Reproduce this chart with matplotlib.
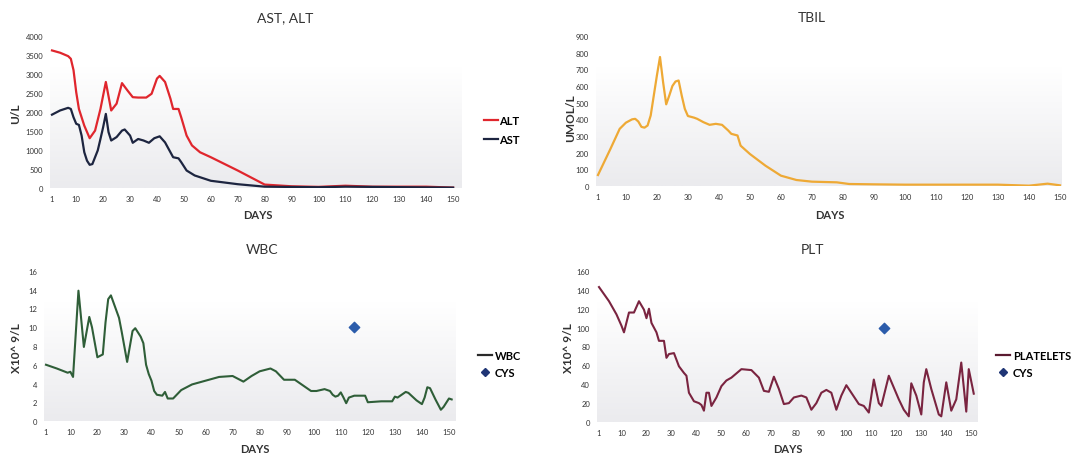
import numpy as np
import matplotlib
matplotlib.use('Agg')
import matplotlib.pyplot as plt
from matplotlib.colors import LinearSegmentedColormap
from matplotlib.lines import Line2D

plt.rcParams['font.family'] = ['Lato', 'DejaVu Sans']
plt.rcParams['lines.solid_joinstyle'] = 'round'

# --- data ---
alt_days = [1, 4, 7, 8, 9, 10, 11, 13, 15, 17, 19, 21, 23, 25, 27, 29, 31, 33, 36, 38, 40, 41, 43,
            45, 46, 48, 49, 51, 53, 56, 60, 70, 80, 90, 100, 110, 120, 140, 150]
alt = [3620, 3560, 3470, 3400, 3100, 2520, 2080, 1640, 1310, 1510, 2080, 2790, 2040, 2220, 2760,
       2570, 2390, 2380, 2380, 2480, 2880, 2950, 2790, 2350, 2080, 2080, 1860, 1380, 1120, 940,
       810, 460, 90, 45, 30, 60, 35, 35, 10]

ast_days = [1, 4, 7, 8, 9, 10, 11, 12, 13, 14, 15, 16, 18, 19, 20, 21, 22, 23, 25, 27, 28, 30, 31,
            33, 35, 37, 39, 41, 43, 45, 46, 48, 49, 51, 54, 60, 70, 80, 100, 110, 150]
ast = [1930, 2040, 2110, 2080, 1860, 1690, 1660, 1380, 940, 720, 610, 630, 990, 1290, 1600, 1950,
       1470, 1250, 1340, 1510, 1540, 1380, 1190, 1290, 1250, 1190, 1310, 1360, 1200, 940, 810,
       780, 680, 460, 330, 190, 100, 35, 20, 35, 10]

tbil_days = [1, 5, 8, 10, 12, 13, 14, 15, 16, 17, 18, 19, 20, 21, 22, 23, 24, 25, 26, 27, 28, 29,
             30, 32, 33, 35, 37, 39, 41, 43, 44, 46, 47, 50, 55, 60, 65, 70, 78, 82, 90, 100, 130,
             140, 146, 150]
tbil = [66, 222, 343, 380, 400, 403, 387, 355, 350, 363, 423, 543, 663, 774, 623, 490, 543, 600,
        627, 633, 543, 463, 420, 410, 403, 383, 367, 373, 367, 333, 313, 303, 242, 192, 122, 62,
        36, 26, 22, 12, 10, 8, 8, 2, 14, 4]

wbc_days = [1, 5, 9, 10, 11, 13, 15, 17, 18, 20, 22, 23, 24, 25, 26, 28, 29, 31, 33, 34, 36, 37,
            38, 39, 40, 41, 42, 44, 45, 46, 48, 51, 55, 60, 65, 70, 72, 74, 77, 80, 84, 86, 89,
            93, 99, 101, 104, 106, 107, 108, 109, 110, 111, 112, 113, 115, 119, 120, 125, 129,
            130, 131, 134, 135, 138, 140, 141, 142, 143, 145, 147, 148, 150, 151]
wbc = [6.0, 5.6, 5.15, 5.25, 4.7, 13.9, 7.9, 11.1, 10.0, 6.8, 7.1, 10.5, 13.0, 13.4, 12.6, 11.0,
       9.5, 6.3, 9.6, 9.9, 9.0, 8.3, 6.0, 5.0, 4.3, 3.2, 2.8, 2.7, 3.1, 2.4, 2.4, 3.3, 3.9, 4.3,
       4.7, 4.8, 4.5, 4.2, 4.8, 5.3, 5.6, 5.3, 4.4, 4.4, 3.2, 3.2, 3.4, 3.2, 2.8, 2.6, 2.7, 3.05,
       2.5, 1.9, 2.5, 2.7, 2.7, 2.0, 2.1, 2.1, 2.6, 2.5, 3.1, 3.0, 2.2, 1.8, 2.5, 3.6, 3.5, 2.3,
       1.2, 1.5, 2.4, 2.3]

plt_days = [1, 5, 8, 10, 11, 13, 15, 17, 19, 20, 21, 22, 24, 25, 27, 28, 29, 31, 33, 35, 36, 37,
            39, 41, 42, 43, 44, 45, 46, 48, 50, 52, 54, 58, 62, 65, 67, 69, 71, 73, 75, 77, 79,
            82, 84, 86, 88, 90, 92, 94, 96, 98, 100, 102, 105, 107, 109, 111, 113, 114, 117, 121,
            123, 125, 126, 128, 130, 131, 132, 134, 137, 138, 140, 142, 144, 146, 148, 149, 151]
platelets = [143, 128, 114, 102, 95, 116, 116, 128, 119, 110, 120, 105, 95, 86, 86, 68, 72, 73,
             59, 52, 49, 31, 22, 20, 18, 12, 31, 31, 17, 26, 38, 44, 47, 56, 55, 47, 33, 32, 48,
             35, 19, 20, 26, 28, 26, 13, 20, 31, 34, 31, 13, 28, 39, 31, 19, 17, 10, 45, 20, 17,
             49, 24, 13, 6, 41, 28, 8, 42, 56, 35, 8, 6, 42, 12, 24, 63, 11, 56, 30]

cys_day = [115]
cys_wbc = [10]
cys_plt = [100]

x_ticks = [1] + list(range(10, 151, 10))

W, H = 1087, 460
fig = plt.figure(figsize=(W / 100, H / 100), dpi=100)

bg_cmap = LinearSegmentedColormap.from_list('bg', ['#ebebee', '#ffffff'])


def px_axes(left, right, top, bottom):
    return fig.add_axes([left / W, 1 - bottom / H, (right - left) / W, (bottom - top) / H])


def style(ax, xlim, ylim, ystep):
    ax.set_xlim(*xlim)
    ax.set_ylim(*ylim)
    ax.set_xticks(x_ticks)
    ax.set_yticks(np.arange(ylim[0], ylim[1] + 1, ystep))
    for s in ax.spines.values():
        s.set_visible(False)
    ax.tick_params(length=0, labelsize=5.5, labelcolor='#333333', pad=5)
    # grey band fading upward, like the excel plot area
    grad = np.linspace(0, 1, 100).reshape(-1, 1)
    ax.imshow(grad, extent=[xlim[0], xlim[1], ylim[0], ylim[1] * 0.8], origin='lower',
              aspect='auto', cmap=bg_cmap, zorder=0)


def ftext(x, y, s, **kw):
    fig.text(x / W, 1 - y / H, s, ha='center', va='center', color='#333333', **kw)


# AST, ALT
ax1 = px_axes(50, 462, 37, 189)
style(ax1, (0.26, 153.3), (0, 4000), 500)
ax1.plot(alt_days, alt, color='#e0262d', lw=1.6, zorder=3)
ax1.plot(ast_days, ast, color='#1d2540', lw=1.6, zorder=3)
ftext(285, 18, 'AST, ALT', fontsize=10)
ftext(258, 216, 'DAYS', fontsize=8, fontweight='bold')
ftext(16, 114, 'U/L', fontsize=8.5, fontweight='bold', rotation=90)
fig.legend(handles=[Line2D([], [], color='#e0262d', lw=1.6, label='ALT'),
                    Line2D([], [], color='#1d2540', lw=1.6, label='AST')],
           loc='center left', bbox_to_anchor=(474 / W, 1 - 131 / H), frameon=False,
           handlelength=1.3, handletextpad=0.1, labelspacing=0.75,
           prop={'weight': 'bold', 'size': 8})

# TBIL
ax2 = px_axes(596, 1062, 37, 187)
style(ax2, (0.36, 150.65), (0, 900), 100)
ax2.plot(tbil_days, tbil, color='#eea935', lw=1.6, zorder=3)
ftext(812, 18, 'TBIL', fontsize=10)
ftext(830, 216, 'DAYS', fontsize=8, fontweight='bold')
ftext(571, 118, 'UMOL/L', fontsize=8.5, fontweight='bold', rotation=90)

# WBC
ax3 = px_axes(44, 456, 272, 422)
style(ax3, (0.26, 152.6), (0, 16), 2)
ax3.plot(wbc_days, wbc, color='#2f5e38', lw=1.5, zorder=3)
ax3.scatter(cys_day, cys_wbc, marker='D', s=28, color='#2b5cab', zorder=4)
ftext(262, 250, 'WBC', fontsize=10)
ftext(255, 450, 'DAYS', fontsize=8, fontweight='bold')
ftext(16, 348, 'X10^ 9/L', fontsize=8.5, fontweight='bold', rotation=90)
fig.legend(handles=[Line2D([], [], color='#2a2a2a', lw=1.6, label='WBC'),
                    Line2D([], [], color='#1f3575', marker='D', ms=4, ls='none', label='CYS')],
           loc='center left', bbox_to_anchor=(468 / W, 1 - 365 / H), frameon=False,
           handlelength=1.3, handletextpad=0.2, labelspacing=0.6,
           prop={'weight': 'bold', 'size': 8})

# PLT
ax4 = px_axes(597, 977, 272, 423)
style(ax4, (0.2, 152.3), (0, 160), 20)
ax4.plot(plt_days, platelets, color='#7a2440', lw=1.5, zorder=3)
ax4.scatter(cys_day, cys_plt, marker='D', s=28, color='#2b5cab', zorder=4)
ftext(812, 250, 'PLT', fontsize=10)
ftext(788, 450, 'DAYS', fontsize=8, fontweight='bold')
ftext(569, 348, 'X10^ 9/L', fontsize=8.5, fontweight='bold', rotation=90)
fig.legend(handles=[Line2D([], [], color='#5a1a30', lw=1.6, label='PLATELETS'),
                    Line2D([], [], color='#1f3575', marker='D', ms=4, ls='none', label='CYS')],
           loc='center left', bbox_to_anchor=(986 / W, 1 - 365 / H), frameon=False,
           handlelength=1.3, handletextpad=0.2, labelspacing=0.6,
           prop={'weight': 'bold', 'size': 8})

fig.savefig('out.png', dpi=100)
